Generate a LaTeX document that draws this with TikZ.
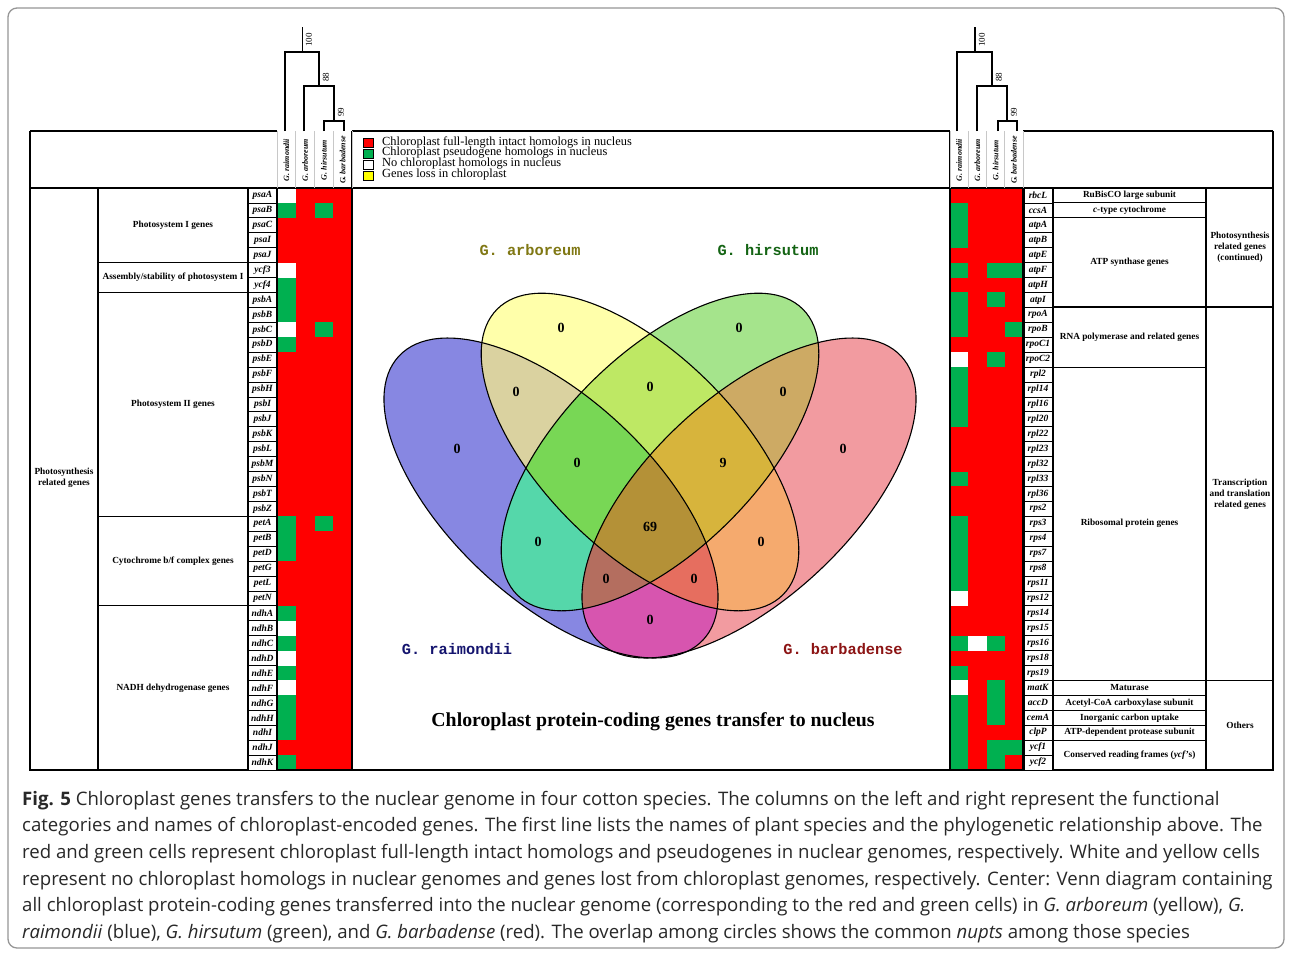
\documentclass[tikz,border=0pt]{standalone}
\usepackage{fontspec}
\setmainfont{Liberation Serif}
\newfontfamily\capfont{Open Sans}
\newfontfamily\vmono{Liberation Mono}
\definecolor{cellR}{RGB}{255,0,0}
\definecolor{cellG}{RGB}{0,176,80}
\definecolor{cellW}{RGB}{255,255,255}
\definecolor{cellY}{RGB}{255,255,0}
\definecolor{vB}{RGB}{135,135,226}
\definecolor{vY}{RGB}{255,255,170}
\definecolor{vG}{RGB}{165,228,140}
\definecolor{vR}{RGB}{242,155,160}
\definecolor{vBY}{RGB}{218,210,160}
\definecolor{vYG}{RGB}{190,232,100}
\definecolor{vGR}{RGB}{205,170,100}
\definecolor{vBG}{RGB}{85,215,170}
\definecolor{vYR}{RGB}{245,170,110}
\definecolor{vBR}{RGB}{215,85,175}
\definecolor{vBYG}{RGB}{120,215,85}
\definecolor{vYGR}{RGB}{215,180,60}
\definecolor{vBGR}{RGB}{180,110,95}
\definecolor{vBYR}{RGB}{230,110,95}
\definecolor{vAll}{RGB}{180,145,55}
\definecolor{txtArb}{RGB}{128,120,20}
\definecolor{txtHir}{RGB}{20,100,20}
\definecolor{txtRai}{RGB}{20,20,110}
\definecolor{txtBar}{RGB}{140,20,20}
\definecolor{capgray}{RGB}{40,40,40}
\definecolor{framegray}{RGB}{150,150,150}
\definecolor{hdrgray}{RGB}{200,200,200}

\newcommand\clipBl{\clip[rotate around={-43:(551,498)}] (551,498) ellipse [x radius=208, y radius=101];}
\newcommand\clipYe{\clip[rotate around={-45:(640,452)}] (640,452) ellipse [x radius=202, y radius=98];}
\newcommand\clipGr{\clip[rotate around={45:(660,452)}] (660,452) ellipse [x radius=202, y radius=98];}
\newcommand\clipRe{\clip[rotate around={43:(749,498)}] (749,498) ellipse [x radius=208, y radius=101];}
\newcommand\vpaint[1]{\fill[#1] (360,270) rectangle (940,700);}

\tikzset{
  thickline/.style={line width=2.2pt},
  thinline/.style={line width=1.1pt},
  treeline/.style={line width=1.3pt},
  genebox/.style={draw, line width=0.8pt, minimum width=28pt, minimum height=14.9pt, inner sep=0pt, fill=white,
     font=\fontsize{9.5}{9.5}\selectfont\bfseries\itshape},
  cat/.style={inner sep=0pt, align=center, font=\fontsize{9.3}{11}\selectfont\bfseries},
  spec/.style={inner sep=0pt, rotate=90, font=\fontsize{8}{8}\selectfont\bfseries\itshape},
  boot/.style={inner sep=0pt, rotate=90, font=\fontsize{9}{9}\selectfont},
  legsq/.style={draw, line width=0.8pt, minimum width=10pt, minimum height=9pt, inner sep=0pt},
  legtxt/.style={anchor=west, inner sep=0pt, font=\fontsize{12.4}{12.4}\selectfont},
  vlab/.style={inner sep=0pt, font=\vmono\bfseries\fontsize{15.3}{15.3}\selectfont},
  vnum/.style={inner sep=0pt, font=\bfseries\fontsize{14}{14}\selectfont},
  vline/.style={line width=1.1pt},
  capline/.style={anchor=base west, inner sep=0pt, text=capgray, font=\capfont\fontsize{18.6}{18.6}\selectfont},
}

\begin{document}
\begin{tikzpicture}[x=1pt, y=-1pt]
\useasboundingbox (0,0) rectangle (1292,954);
\fill[white] (0,0) rectangle (1292,954);
\draw[framegray, line width=1.3pt, rounded corners=9pt] (8,8) rectangle (1284,948);

% ---------- grids ----------
\fill[cellR] (277,188) rectangle (352,770);
\foreach \c [count=\i from 0] in {W,G,R,R,R,W,G,G,G,W,G,R,R,R,R,R,R,R,R,R,R,R,G,G,G,R,R,R,G,W,G,W,G,W,G,G,G,R,G}
  {\fill[cell\c] (277,{188+14.923*\i}) rectangle (295.75,{188+14.923*(\i+1)});}
\foreach \i in {1,9,22}
  {\fill[cellG] (314.5,{188+14.923*\i}) rectangle (333.25,{188+14.923*(\i+1)});}

\fill[cellR] (950,188) rectangle (1023,770);
\foreach \c [count=\i from 0] in {R,G,G,G,R,G,R,G,G,G,R,W,G,G,G,G,R,R,R,G,R,R,G,G,G,G,G,W,R,R,G,R,G,W,G,G,G,G,G}
  {\fill[cell\c] (950,{188+14.923*\i}) rectangle (968.25,{188+14.923*(\i+1)});}
\fill[cellW] (968.25,{188+14.923*30}) rectangle (986.5,{188+14.923*31});
\foreach \i in {5,7,11,30,33,34,35,37,38}
  {\fill[cellG] (986.5,{188+14.923*\i}) rectangle (1004.75,{188+14.923*(\i+1)});}
\foreach \i in {5,9,37}
  {\fill[cellG] (1004.75,{188+14.923*\i}) rectangle (1023,{188+14.923*(\i+1)});}

% ---------- table lines ----------
\draw[thickline] (30,131) -- (277,131);
\draw[thickline] (352,131) -- (950,131);
\draw[thickline] (1023,131) -- (1273,131);
\draw[thickline] (30,131) -- (30,770) -- (1273,770) -- (1273,131);
\draw[thickline] (30,188) -- (1273,188);
\draw[thinline] (352,131) -- (352,770);
\draw[thinline] (950,131) -- (950,770);
\foreach \k in {0,...,4} {
  \draw[hdrgray, line width=0.6pt] ({277+18.75*\k},131) -- ({277+18.75*\k},188);
  \draw[hdrgray, line width=0.6pt] ({950+18.25*\k},131) -- ({950+18.25*\k},188);
}
\draw[thinline] (98,188) -- (98,770);
\draw[thinline] (248,188) -- (248,770);
\draw[thinline] (277,188) -- (277,770);
\foreach \k in {5,7,22,28} {\draw[thinline] (98,{188+14.923*\k}) -- (248,{188+14.923*\k});}
\draw[thinline] (1023,188) -- (1023,770);
\draw[thinline] (1053,188) -- (1053,770);
\draw[thinline] (1206,188) -- (1206,770);
\foreach \k in {1,2,12,34,35,36,37} {\draw[thinline] (1053,{188+14.923*\k}) -- (1206,{188+14.923*\k});}
\foreach \k in {8,33} {\draw[line width=1.8pt] (1053,{188+14.923*\k}) -- (1273,{188+14.923*\k});}

% ---------- gene names ----------
\foreach \g [count=\i from 0] in {psaA,psaB,psaC,psaI,psaJ,ycf3,ycf4,psbA,psbB,psbC,psbD,psbE,psbF,psbH,psbI,psbJ,psbK,psbL,psbM,psbN,psbT,psbZ,petA,petB,petD,petG,petL,petN,ndhA,ndhB,ndhC,ndhD,ndhE,ndhF,ndhG,ndhH,ndhI,ndhJ,ndhK}
  {\node[genebox] (gL\i) at (262.5,{188+14.923*\i+7.46}) {\g};}
\foreach \g [count=\i from 0] in {rbcL,ccsA,atpA,atpB,atpE,atpF,atpH,atpI,rpoA,rpoB,rpoC1,rpoC2,rpl2,rpl14,rpl16,rpl20,rpl22,rpl23,rpl32,rpl33,rpl36,rps2,rps3,rps4,rps7,rps8,rps11,rps12,rps14,rps15,rps16,rps18,rps19,matK,accD,cemA,clpP,ycf1,ycf2}
  {\node[genebox] (gR\i) at (1038,{188+14.923*\i+7.46}) {\g};}

% ---------- category texts ----------
\node[cat] (c0) at (64,478) {Photosynthesis\\related genes};
\node[cat] (c1) at (173,225.5) {Photosystem I genes};
\node[cat] (c2) at (173,277.5) {Assembly/stability of photosystem I};
\node[cat] (c3) at (173,404.5) {Photosystem II genes};
\node[cat] (c4) at (173,561) {Cytochrome b/f complex genes};
\node[cat] (c5) at (173,688) {NADH dehydrogenase genes};

\node[cat] (d1) at (1129.5,195.5) {RuBisCO large subunit};
\node[cat] (d2) at (1129.5,210.4) {\textit{c}-type cytochrome};
\node[cat] (d3) at (1129.5,262.6) {ATP synthase genes};
\node[cat] (d4) at (1129.5,337.2) {RNA polymerase and related genes};
\node[cat] (d5) at (1129.5,523.7) {Ribosomal protein genes};
\node[cat] (d6) at (1129.5,687.9) {Maturase};
\node[cat] (d7) at (1129.5,702.8) {Acetyl-CoA carboxylase subunit};
\node[cat] (d8) at (1129.5,717.8) {Inorganic carbon uptake};
\node[cat] (d9) at (1129.5,732.7) {ATP-dependent protease subunit};
\node[cat] (d10) at (1129.5,755.1) {Conserved reading frames (\textit{ycf}'s)};
\node[cat] (e1) at (1240,247.7) {Photosynthesis\\related genes\\(continued)};
\node[cat] (e2) at (1240,494) {Transcription\\and translation\\related genes};
\node[cat] (e3) at (1240,725.2) {Others};

% ---------- species headers ----------
\foreach \s [count=\i from 0] in {G. raimondii,G. arboreum,G. hirsutum,G. barbadense} {
  \node[spec] (sL\i) at ({286.4+18.75*\i},160) {\s};
  \node[spec] (sR\i) at ({959.1+18.25*\i},160) {\s};
}

% ---------- trees ----------
\draw[treeline] (302.5,27) -- (302.5,52);
\draw[treeline] (285,131) -- (285,52) -- (319,52) -- (319,86);
\draw[treeline] (304,131) -- (304,86) -- (334,86) -- (334,121);
\draw[treeline] (324,131) -- (324,121) -- (344,121) -- (344,131);
\node[boot] (bL1) at (309,40) {100};
\node[boot] (bL2) at (326,77) {88};
\node[boot] (bL3) at (341,112) {99};

\draw[treeline] (975,27) -- (975,52);
\draw[treeline] (957,131) -- (957,52) -- (992,52) -- (992,86);
\draw[treeline] (977,131) -- (977,86) -- (1007,86) -- (1007,121);
\draw[treeline] (998,131) -- (998,121) -- (1017,121) -- (1017,131);
\node[boot] (bR1) at (982,40) {100};
\node[boot] (bR2) at (999,77) {88};
\node[boot] (bR3) at (1014,112) {99};

% ---------- legend ----------
\node[legsq, fill=cellR] (l1) at (368,142.5) {};
\node[legsq, fill=cellG] (l2) at (368,153.5) {};
\node[legsq, fill=cellW] (l3) at (368,164.5) {};
\node[legsq, fill=cellY] (l4) at (368,175.5) {};
\node[legtxt] (lt1) at (382,142) {Chloroplast full-length intact homologs in nucleus};
\node[legtxt] (lt2) at (382,153) {Chloroplast pseudogene homologs in nucleus};
\node[legtxt] (lt3) at (382,164) {No chloroplast homologs in nucleus};
\node[legtxt] (lt4) at (382,175) {Genes loss in chloroplast};

% ---------- Venn ----------
\begin{scope}\clipBl\vpaint{vB}\end{scope}
\begin{scope}\clipYe\vpaint{vY}\end{scope}
\begin{scope}\clipGr\vpaint{vG}\end{scope}
\begin{scope}\clipRe\vpaint{vR}\end{scope}
\begin{scope}\clipBl\clipYe\vpaint{vBY}\end{scope}
\begin{scope}\clipBl\clipGr\vpaint{vBG}\end{scope}
\begin{scope}\clipBl\clipRe\vpaint{vBR}\end{scope}
\begin{scope}\clipYe\clipGr\vpaint{vYG}\end{scope}
\begin{scope}\clipYe\clipRe\vpaint{vYR}\end{scope}
\begin{scope}\clipGr\clipRe\vpaint{vGR}\end{scope}
\begin{scope}\clipBl\clipYe\clipGr\vpaint{vBYG}\end{scope}
\begin{scope}\clipBl\clipYe\clipRe\vpaint{vBYR}\end{scope}
\begin{scope}\clipBl\clipGr\clipRe\vpaint{vBGR}\end{scope}
\begin{scope}\clipYe\clipGr\clipRe\vpaint{vYGR}\end{scope}
\begin{scope}\clipBl\clipYe\clipGr\clipRe\vpaint{vAll}\end{scope}
\draw[vline, rotate around={-43:(551,498)}] (551,498) ellipse [x radius=208, y radius=101];
\draw[vline, rotate around={-45:(640,452)}] (640,452) ellipse [x radius=202, y radius=98];
\draw[vline, rotate around={45:(660,452)}] (660,452) ellipse [x radius=202, y radius=98];
\draw[vline, rotate around={43:(749,498)}] (749,498) ellipse [x radius=208, y radius=101];

\node[vnum] (n1) at (457,449) {0};
\node[vnum] (n2) at (561,328) {0};
\node[vnum] (n3) at (739,328) {0};
\node[vnum] (n4) at (843,449) {0};
\node[vnum] (n5) at (516,392) {0};
\node[vnum] (n6) at (650,387) {0};
\node[vnum] (n7) at (783,392) {0};
\node[vnum] (n8) at (577,463) {0};
\node[vnum] (n9) at (723,463) {9};
\node[vnum] (n10) at (650,527) {69};
\node[vnum] (n11) at (538,542) {0};
\node[vnum] (n12) at (761,542) {0};
\node[vnum] (n13) at (606,579) {0};
\node[vnum] (n14) at (694,579) {0};
\node[vnum] (n15) at (650,620) {0};

\node[vlab, text=txtArb] (vA) at (530,250) {G. arboreum};
\node[vlab, text=txtHir] (vH) at (768,250) {G. hirsutum};
\node[vlab, text=txtRai] (vR) at (457,649) {G. raimondii};
\node[vlab, text=txtBar] (vBa) at (843,649) {G. barbadense};
\node[inner sep=0pt, font=\bfseries\fontsize{19.8}{19.8}\selectfont] (title) at (653,722) {Chloroplast protein-coding genes transfer to nucleus};

% ---------- caption ----------
\node[capline] (cap1) at (22,805) {\textbf{Fig. 5} Chloroplast genes transfers to the nuclear genome in four cotton species. The columns on the left and right represent the functional};
\node[capline] (cap2) at (22,831.5) {categories and names of chloroplast-encoded genes. The first line lists the names of plant species and the phylogenetic relationship above. The};
\node[capline] (cap3) at (22,858) {red and green cells represent chloroplast full-length intact homologs and pseudogenes in nuclear genomes, respectively. White and yellow cells};
\node[capline] (cap4) at (22,885) {represent no chloroplast homologs in nuclear genomes and genes lost from chloroplast genomes, respectively. Center: Venn diagram containing};
\node[capline] (cap5) at (22,911.5) {all chloroplast protein-coding genes transferred into the nuclear genome (corresponding to the red and green cells) in \textit{G. arboreum} (yellow), \textit{G.}};
\node[capline] (cap6) at (22,938) {\textit{raimondii} (blue), \textit{G. hirsutum} (green), and \textit{G. barbadense} (red). The overlap among circles shows the common \textit{nupts} among those species};
\end{tikzpicture}
\end{document}
